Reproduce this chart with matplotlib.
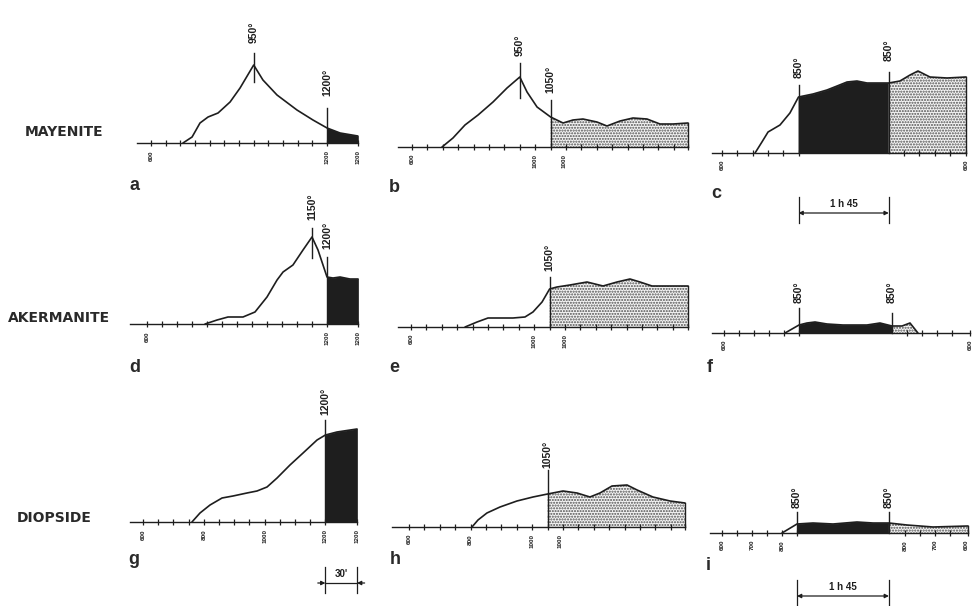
import matplotlib
matplotlib.use('Agg')
import matplotlib.pyplot as plt
import numpy as np

W, H = 974, 606
plt.rcParams['hatch.linewidth'] = 1.0
INK = '#1e1e1e'

# ---------------- data ----------------
# t = heating steps (one step = 50 degC, step 0 = 600 degC), continuing through holds/cooling
# h = signal height (arbitrary units)
A_T = [2.18, 2.80, 3.34, 3.89, 4.57, 5.39, 6.07, 7.0, 7.63, 8.59, 9.95, 11.04, 12.0, 12.89, 14.1]
A_H = [0, 6, 20, 26, 30, 41, 55, 78, 63, 48, 33, 23, 15, 10, 7]

B_T = [1.95, 2.66, 3.44, 4.29, 5.26, 6.17, 7.0, 7.47, 8.12, 9.0, 9.81, 10.45, 11.10, 12.01,
       12.66, 13.51, 14.35, 15.26, 16.10, 16.95, 17.92]
B_H = [0, 9, 22, 32, 45, 59, 70, 55, 40, 30, 24, 27, 28, 25, 21, 26, 29, 28, 23, 23, 24]

C_T = [2.16, 2.61, 3.01, 3.79, 4.44, 5.0, 5.95, 6.86, 7.52, 8.17, 8.82, 9.48, 10.9, 11.63,
       12.29, 12.81, 13.59, 14.71, 15.95]
C_H = [0, 11, 21, 28, 40, 56, 59, 63, 67, 71, 72, 70, 70, 72, 78, 82, 76, 75, 76]

D_T = [3.87, 4.67, 5.4, 6.4, 7.2, 8.0, 8.67, 9.07, 9.73, 10.4, 11.0, 11.4, 12.0, 12.4,
       12.87, 13.53, 14.07]
D_H = [0, 4, 7, 7, 12, 27, 44, 52, 59, 74, 87, 74, 47, 46, 47, 45, 45]

E_T = [3.51, 4.29, 5.0, 5.78, 6.62, 7.40, 7.92, 8.51, 9.0, 9.48, 10.32, 11.43, 12.47, 13.38,
       14.22, 14.87, 15.65, 17.01, 17.99]
E_H = [0, 5, 9, 9, 9, 10, 15, 25, 38, 40, 42, 45, 41, 45, 48, 45, 41, 41, 41]

F_T = [4.07, 5.0, 5.53, 6.07, 6.87, 7.93, 9.53, 10.4, 11.2, 11.87, 12.4, 12.93]
F_H = [0, 8, 10, 11, 9, 8, 8, 10, 7, 7, 10, 0]

G_T = [3.22, 3.75, 4.41, 5.2, 5.92, 6.84, 7.5, 8.16, 8.82, 9.67, 10.53, 11.45, 12.0, 12.76, 14.08]
G_H = [0, 9, 17, 24, 26, 29, 31, 35, 44, 57, 69, 82, 87, 90, 93]

H_T = [4.09, 4.48, 5.06, 5.91, 7.01, 8.05, 9.0, 10.0, 10.91, 11.75, 12.40, 13.18, 14.16,
       14.81, 15.84, 16.95, 17.92]
H_H = [0, 7, 14, 20, 26, 30, 33, 36, 34, 30, 34, 41, 42, 37, 30, 26, 24]

I_T = [4.0, 5.0, 6.07, 7.4, 9.0, 10.07, 11.13, 12.33, 14.07, 16.4]
I_H = [0, 9, 10, 9, 11, 10, 10, 8, 6, 7]

ROW_LABELS = ['MAYENITE', 'AKERMANITE', 'DIOPSIDE']
PANEL_LETTERS = ['a', 'b', 'c', 'd', 'e', 'f', 'g', 'h', 'i']

# tick positions and tick labels (step units)
A_TICKS = list(range(13)) + [14.1]
A_TLAB = {0: '600', 12: '1200', 14.1: '1200'}
B_TICKS = list(range(18)) + [17.92]
B_TLAB = {0: '600', 8: '1000', 9.9: '1000'}
C_TICKS = list(range(6)) + [11.9, 12.9, 13.9, 14.9, 15.95]
C_TLAB = {0: '600', 15.95: '600'}
D_TICKS = list(range(13)) + [14.07]
D_TLAB = {0: '600', 12: '1200', 14.07: '1200'}
E_TICKS = list(range(19))
E_TLAB = {0: '600', 8: '1000', 10.0: '1000'}
F_TICKS = list(range(6)) + [12.2, 13.2, 14.2, 15.2, 16.4]
F_TLAB = {0: '600', 16.4: '600'}
G_TICKS = list(range(13)) + [14.08]
G_TLAB = {0: '600', 4: '800', 8: '1000', 12: '1200', 14.08: '1200'}
H_TICKS = list(range(18)) + [17.92]
H_TLAB = {0: '600', 4: '800', 8: '1000', 9.8: '1000'}
I_TICKS = list(range(6)) + [12.2, 13.2, 14.2, 15.2, 16.4]
I_TLAB = {0: '600', 2: '700', 4: '800', 12.2: '800', 14.2: '700', 16.3: '600'}

# marked temperatures: (t, line bottom, line top, label, label centre)
A_MARK = [(7, 61, 90, '950°', 111), (12, 0, 35, '1200°', 61)]
B_MARK = [(7, 49, 84, '950°', 102), (9, 0, 47, '1050°', 68)]
C_MARK = [(5, 0, 68, '850°', 86), (10.9, 0, 81, '850°', 103)]
D_MARK = [(11, 66, 96, '1150°', 117), (12, 0, 67, '1200°', 89)]
E_MARK = [(9, 0, 50, '1050°', 70)]
F_MARK = [(5, 0, 25, '850°', 41), (11.2, 0, 20, '850°', 41)]
G_MARK = [(12, 0, 102, '1200°', 121)]
H_MARK = [(9, 0, 57, '1050°', 73)]
I_MARK = [(5, 0, 21, '850°', 36), (11.13, 0, 21, '850°', 36)]

# filled regions: (start, end, kind)
A_FILL = [(12, 14.1, 'black')]
B_FILL = [(9, 17.92, 'dots')]
C_FILL = [(5, 10.9, 'black'), (10.9, 15.95, 'dots')]
D_FILL = [(12, 14.07, 'black')]
E_FILL = [(9, 17.99, 'dots')]
F_FILL = [(5, 11.2, 'black'), (11.2, 12.93, 'dots')]
G_FILL = [(12, 14.08, 'black')]
H_FILL = [(9, 17.92, 'dots')]
I_FILL = [(5, 11.13, 'black'), (11.13, 16.4, 'dots')]

# duration bars: (start, end, label, style)
C_BAR = [(5, 10.9, '1 h 45', 'in')]
G_BAR = [(12, 14.08, "30'", 'out')]
I_BAR = [(5, 11.13, '1 h 45', 'in')]

# ---------------- layout (pixels) ----------------
# x of step 0, baseline y, pixels per step, axis start, axis end
LAYOUT = {
    'a': (151, 143, 14.67, -0.95, 14.1),
    'b': (412, 147, 15.4, -0.9, 17.92),
    'c': (722, 153, 15.3, -0.65, 15.95),
    'd': (147, 324, 15.0, -1.13, 14.07),
    'e': (411, 327, 15.4, -0.84, 17.99),
    'f': (724, 333, 15.0, -0.8, 16.4),
    'g': (143, 522, 15.2, -0.86, 14.08),
    'h': (409, 527, 15.4, -1.1, 17.92),
    'i': (722, 533, 15.0, -0.8, 16.4),
}
PANELS = {
    'a': (A_T, A_H, A_TICKS, A_TLAB, A_MARK, A_FILL, []),
    'b': (B_T, B_H, B_TICKS, B_TLAB, B_MARK, B_FILL, []),
    'c': (C_T, C_H, C_TICKS, C_TLAB, C_MARK, C_FILL, C_BAR),
    'd': (D_T, D_H, D_TICKS, D_TLAB, D_MARK, D_FILL, []),
    'e': (E_T, E_H, E_TICKS, E_TLAB, E_MARK, E_FILL, []),
    'f': (F_T, F_H, F_TICKS, F_TLAB, F_MARK, F_FILL, []),
    'g': (G_T, G_H, G_TICKS, G_TLAB, G_MARK, G_FILL, G_BAR),
    'h': (H_T, H_H, H_TICKS, H_TLAB, H_MARK, H_FILL, []),
    'i': (I_T, I_H, I_TICKS, I_TLAB, I_MARK, I_FILL, I_BAR),
}
BAR_Y = {'c': -60, 'g': -61, 'i': -63}
LETTER_POS = {'a': (134, 185), 'b': (394, 187), 'c': (716, 194),
              'd': (135, 368), 'e': (394, 367), 'f': (710, 368),
              'g': (134, 560), 'h': (395, 560), 'i': (708, 565)}
ROW_POS = [(25, 132), (8, 318), (17, 518)]

fig = plt.figure(figsize=(W / 100, H / 100), dpi=100)
fig.patch.set_facecolor('white')

Y_LO, Y_HI = -90, 150
for key, (x0, base, ppt, xmin, xmax) in LAYOUT.items():
    T, Hh, ticks, tlab, marks, fills, bars = PANELS[key]
    lo, hi = xmin - 0.6, xmax + 0.6
    left = x0 + lo * ppt
    width = (hi - lo) * ppt
    bottom = H - (base - Y_LO)
    height = Y_HI - Y_LO
    ax = fig.add_axes([left / W, bottom / H, width / W, height / H])
    ax.set_xlim(lo, hi)
    ax.set_ylim(Y_LO, Y_HI)
    ax.axis('off')
    T = np.array(T)
    Hh = np.array(Hh)
    for (s, e, kind) in fills:
        m = (T >= s - 1e-9) & (T <= e + 1e-9)
        if kind == 'black':
            ax.fill_between(T, Hh, 0, where=m, facecolor=INK, edgecolor=INK,
                            linewidth=0.5, clip_on=False, zorder=2)
        else:
            ax.fill_between(T, Hh, 0, where=m, facecolor='#f4f4f4', edgecolor='#505050',
                            hatch='......', linewidth=0, clip_on=False, zorder=2)
            he = Hh[np.argmin(np.abs(T - e))]
            ax.plot([e, e], [0, he], color=INK, lw=1.0, clip_on=False, zorder=3)
    ax.plot(T, Hh, color=INK, lw=1.2, clip_on=False, zorder=4,
            solid_joinstyle='round', solid_capstyle='round')
    ax.plot([xmin, xmax], [0, 0], color=INK, lw=1.0, clip_on=False, zorder=4)
    ax.plot(ticks, [0] * len(ticks), ls='none', marker='|', ms=4, mew=0.9,
            color=INK, clip_on=False, zorder=4)
    for tx, lab in tlab.items():
        ax.text(tx, -7, lab, rotation=90, ha='center', va='top', fontsize=4.5,
                fontweight='bold', color=INK, family='Liberation Sans')
    for (tm, yb, yt, lab, yc) in marks:
        ax.plot([tm, tm], [yb, yt], color=INK, lw=1.0, clip_on=False, zorder=5)
        ax.text(tm, yc, lab, rotation=90, ha='center', va='center', fontsize=7.5,
                fontweight='bold', color=INK, family='Liberation Sans')
    for (s, e, lab, style) in bars:
        yb = BAR_Y[key]
        for xe in (s, e):
            ax.plot([xe, xe], [yb + 16, yb - 10], color=INK, lw=0.9, clip_on=False)
        if style == 'in':
            ax.annotate('', xy=(s, yb), xytext=(e, yb),
                        arrowprops=dict(arrowstyle='<|-|>', color=INK, lw=0.9,
                                        mutation_scale=6, shrinkA=0, shrinkB=0),
                        annotation_clip=False)
        else:
            ax.plot([s, e], [yb, yb], color=INK, lw=0.9, clip_on=False)
            for xe, xo in ((s, s - 0.5), (e, e + 0.5)):
                ax.annotate('', xy=(xe, yb), xytext=(xo, yb),
                            arrowprops=dict(arrowstyle='-|>', color=INK, lw=0.9,
                                            mutation_scale=6, shrinkA=0, shrinkB=0),
                            annotation_clip=False)
        ax.text((s + e) / 2, yb + 4, lab, ha='center', va='bottom', fontsize=7,
                fontweight='bold', color=INK, family='Liberation Sans')

for lab, (x, y) in zip(ROW_LABELS, ROW_POS):
    fig.text(x / W, 1 - y / H, lab, ha='left', va='center', fontsize=10,
             fontweight='bold', color='#2a2a2a', family='DejaVu Sans')
for lab in PANEL_LETTERS:
    x, y = LETTER_POS[lab]
    fig.text(x / W, 1 - y / H, lab, ha='center', va='center', fontsize=13,
             fontweight='bold', color='#2a2a2a', family='Liberation Sans')

fig.savefig('out.png', dpi=100, facecolor='white')
